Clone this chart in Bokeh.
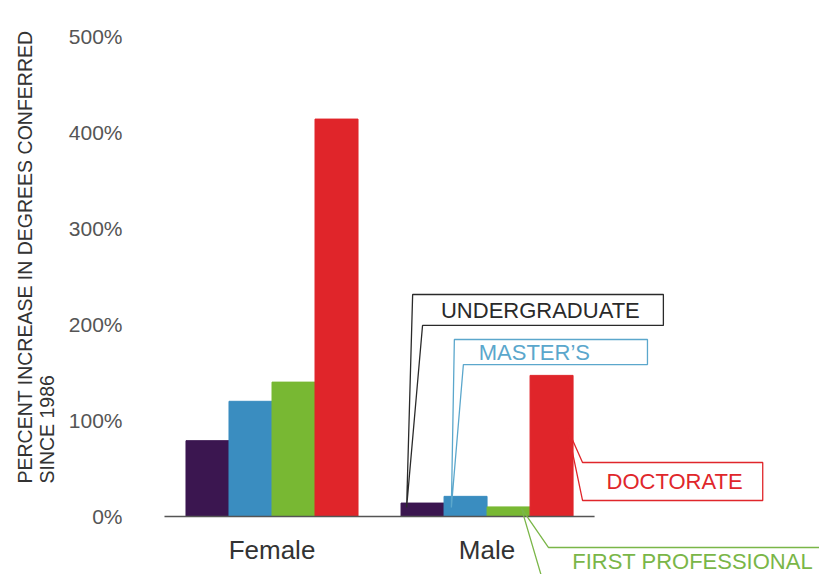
from bokeh.plotting import figure
from bokeh.models import FixedTicker, Range1d, Title, ColumnDataSource
from bokeh.embed import file_html
from bokeh.resources import INLINE
from bokeh.core.properties import value

# ---- data ----
groups = ["Female", "Male"]
degrees = ["UNDERGRADUATE", "MASTER\u2019S", "FIRST PROFESSIONAL", "DOCTORATE"]
female = [79, 120, 140, 414]
male = [14, 21, 10, 147]
bar_colors = ["#3b1650", "#3a8dc0", "#78b833", "#e0252a"]
callout_colors = ["#2a2a2a", "#5ba7cc", "#7ab648", "#e0262b"]
y_ticks = [0, 100, 200, 300, 400, 500]
y_tick_labels = ["0%", "100%", "200%", "300%", "400%", "500%"]
y_title = "PERCENT INCREASE IN DEGREES CONFERRED\nSINCE 1986"

FONT = "Liberation Sans"
group_gap = 5  # slots per group

# bar table
xs, tops, cols = [], [], []
for gi, vals in enumerate([female, male]):
    for di, v in enumerate(vals):
        xs.append(gi * group_gap + di)
        tops.append(v)
        cols.append(bar_colors[di])
bars = ColumnDataSource(dict(x=xs, top=tops, color=cols))

p = figure(width=819, height=574,
           x_range=Range1d(-1.674, 14.23), y_range=Range1d(-60.4, 537.5),
           output_backend="svg", toolbar_location=None,
           min_border_left=135, min_border_right=0,
           min_border_top=0, min_border_bottom=0)
p.outline_line_color = None
p.grid.visible = False
p.background_fill_color = "white"

p.vbar(x="x", top="top", bottom=0, width=1.0, color="color", source=bars)

# baseline
p.segment(x0=[-1], y0=[0], x1=[9], y1=[0], line_color="#555555", line_width=1.5)

# y axis
ya = p.yaxis[0]
ya.ticker = FixedTicker(ticks=y_ticks)
ya.major_label_overrides = {t: l for t, l in zip(y_ticks, y_tick_labels)}
ya.axis_line_color = None
ya.major_tick_line_color = None
ya.minor_tick_line_color = None
ya.major_label_text_font = FONT
ya.major_label_text_font_size = "21px"
ya.major_label_text_color = "#555555"
ya.major_label_standoff = 7

# x axis at zero
xa = p.xaxis[0]
xa.fixed_location = 0
centers = [gi * group_gap + (len(degrees) - 1) / 2 for gi in range(len(groups))]
xa.ticker = FixedTicker(ticks=centers)
xa.major_label_overrides = {c: g for c, g in zip(centers, groups)}
xa.axis_line_color = None
xa.major_tick_line_color = None
xa.minor_tick_line_color = None
xa.major_label_text_font = FONT
xa.major_label_text_font_size = "26px"
xa.major_label_text_color = "#333333"
xa.major_label_standoff = 12

# vertical title
t = Title(text=y_title, align="left", offset=91, text_font=FONT,
          text_font_size="19.5px", text_font_style="normal",
          text_color="#333333", standoff=16)
p.add_layout(t, "left")

# callouts: tip -> top-left -> top-right -> bottom-right -> bottom-left -> tip
callouts = [
    dict(tip=(4.63, 9.4), l=4.77, l2=5.0, r=10.60, top=231.25, bot=199.0, tx=7.74, ty=214.6),
    dict(tip=(5.67, 9.4), l=5.74, l2=5.95, r=10.23, top=184.4, bot=158.3, tx=7.6, ty=170.8),
    dict(tip=(7.30, 8.5), l=7.93, l2=8.0, r=15.5, top=-32.3, bot=-97.9, tx=11.28, ty=-46.5),
    dict(tip=(8.37, 91.7), l=8.72, l2=8.72, r=12.91, top=56.25, bot=16.7, tx=10.86, ty=36.5),
]
mx, my, tx, ty = [], [], [], []
for c in callouts:
    x0, y0 = c["tip"]
    mx.append([x0, c["l"], c["r"], c["r"], c["l2"], x0])
    my.append([y0, c["top"], c["top"], c["bot"], c["bot"], y0])
    tx.append(c["tx"])
    ty.append(c["ty"])
p.multi_line(xs=mx, ys=my, line_color=callout_colors, line_width=1.3)
p.text(x=tx, y=ty, text=degrees, text_color=callout_colors,
       text_align="center", text_baseline="middle",
       text_font=value(FONT), text_font_size="22px")

open("out.html", "w").write(file_html(p, INLINE))
